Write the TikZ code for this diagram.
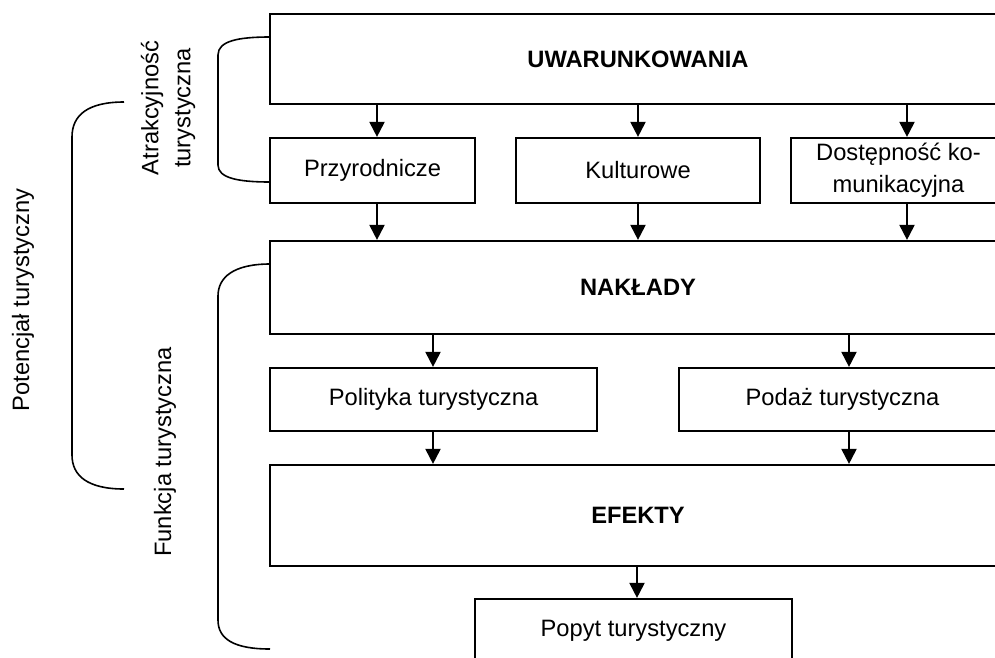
\documentclass[tikz,border=0pt]{standalone}
\usepackage{fontspec}
\setmainfont{Liberation Sans}
\usetikzlibrary{arrows.meta}
\begin{document}
\begin{tikzpicture}[x=1pt,y=-1pt,
  font=\fontsize{23.7pt}{32pt}\selectfont,
  box/.style={draw, line width=2.2pt, inner sep=0pt, align=center},
  arr/.style={line width=2pt, -{Triangle[length=15pt,width=15pt]}},
  brace/.style={line width=1.6pt},
  side/.style={rotate=90, align=center, inner sep=0pt}]
\clip (0,0) rectangle (995,657);
\fill[white] (0,0) rectangle (995,657);
% boxes
\node[box, minimum width=736pt, minimum height=90pt] (uw) at (638,59) {\textbf{UWARUNKOWANIA}};
\node[box, minimum width=205pt, minimum height=65pt] (przy) at (372.5,170.5) {Przyrodnicze};
\node[box, minimum width=244pt, minimum height=65pt] (kult) at (638,170.5) {Kulturowe};
\node[box, minimum width=215pt, minimum height=65pt] (dost) at (898.5,170.5) {Dostępność ko-\\munikacyjna};
\node[box, minimum width=736pt, minimum height=93pt] (nak) at (638,287.5) {\textbf{NAKŁADY}};
\node[box, minimum width=327pt, minimum height=63pt] (pol) at (433.5,399.5) {Polityka turystyczna};
\node[box, minimum width=327pt, minimum height=63pt] (pod) at (842.5,399.5) {Podaż turystyczna};
\node[box, minimum width=736pt, minimum height=101pt] (efe) at (638,515.5) {\textbf{EFEKTY}};
\node[box, minimum width=317pt, minimum height=63pt] (pop) at (633.5,630.5) {Popyt turystyczny};
% arrow columns
\coordinate (c1) at (377,0);
\coordinate (c2) at (638,0);
\coordinate (c3) at (907,0);
\coordinate (c4) at (433,0);
\coordinate (c5) at (849,0);
\coordinate (c6) at (637,0);
\draw[arr] (c1 |- uw.south) -- (c1 |- przy.north);
\draw[arr] (c2 |- uw.south) -- (c2 |- kult.north);
\draw[arr] (c3 |- uw.south) -- (c3 |- dost.north);
\draw[arr] (c1 |- przy.south) -- (c1 |- nak.north);
\draw[arr] (c2 |- kult.south) -- (c2 |- nak.north);
\draw[arr] (c3 |- dost.south) -- (c3 |- nak.north);
\draw[arr] (c4 |- nak.south) -- (c4 |- pol.north);
\draw[arr] (c5 |- nak.south) -- (c5 |- pod.north);
\draw[arr] (c4 |- pol.south) -- (c4 |- efe.north);
\draw[arr] (c5 |- pod.south) -- (c5 |- efe.north);
\draw[arr] (c6 |- efe.south) -- (c6 |- pop.north);
% brackets
\draw[brace] (270,37) .. controls (238,37) and (218,41) .. (218,55) -- (218,165) .. controls (218,178) and (238,182) .. (270,182);
\draw[brace] (124,102) .. controls (88,102) and (72,115) .. (72,137) -- (72,455) .. controls (72,476) and (88,489) .. (124,489);
\draw[brace] (270,264) .. controls (234,264) and (218,277) .. (218,296) -- (218,620) .. controls (218,639) and (234,649) .. (270,649);
% side labels
\node[side] (atr) at (168,108) {Atrakcyjność\\turystyczna};
\node[side] (pot) at (23,300) {Potencjał turystyczny};
\node[side] (fun) at (165,452) {Funkcja turystyczna};
\end{tikzpicture}
\end{document}
